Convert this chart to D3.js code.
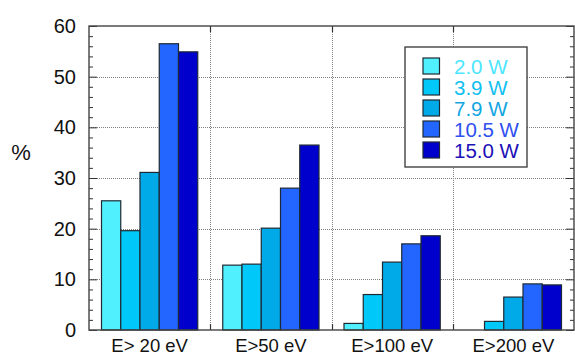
<!DOCTYPE html>
<html>
<head>
<meta charset="utf-8">
<script src="https://cdn.jsdelivr.net/npm/d3@7"></script>
<style>
  html, body { margin: 0; padding: 0; background: #fff; }
  svg { display: block; font-family: "Liberation Sans", Arial, sans-serif; }
</style>
</head>
<body>
<svg id="chart" width="575" height="355"></svg>
<script>
const categories = ["E> 20 eV", "E>50 eV", "E>100 eV", "E>200 eV"];
const seriesNames = ["2.0 W", "3.9 W", "7.9 W", "10.5 W", "15.0 W"];
const w2_0 = [25.5, 12.8, 1.3, 0];
const w3_9 = [19.6, 13.0, 7.0, 1.7];
const w7_9 = [31.1, 20.1, 13.4, 6.5];
const w10_5 = [56.5, 28.0, 17.0, 9.1];
const w15_0 = [54.9, 36.5, 18.6, 8.9];
const yTicks = [0, 10, 20, 30, 40, 50, 60];
const colors = ["#50F0FF", "#00C8F8", "#00AAE8", "#2266FF", "#0000CC"];
const textColors = ["#4CE6FF", "#10C0F0", "#10A6E2", "#3050F0", "#2010B8"];

const values = [w2_0, w3_9, w7_9, w10_5, w15_0];
const data = [];
categories.forEach((c, i) => {
  seriesNames.forEach((s, j) => {
    data.push({ cat: c, series: s, value: values[j][i], idx: j });
  });
});

const width = 575, height = 355;
const margin = { top: 26, right: 1, bottom: 25, left: 89 };

const svg = d3.select("#chart");

const x = d3.scaleBand()
  .domain(categories)
  .range([margin.left, width - margin.right])
  .padding(0);

const inner = d3.scaleBand()
  .domain(seriesNames)
  .range([12.5, x.bandwidth() - 12.5])
  .padding(0);

const y = d3.scaleLinear()
  .domain([0, 60])
  .range([height - margin.bottom, margin.top]);

const x0 = margin.left, x1 = width - margin.right;
const y0 = y(0), y1 = y(60);

// grid
const grid = svg.append("g")
  .attr("stroke", "#808080")
  .attr("stroke-width", 1)
  .attr("stroke-dasharray", "1,1");
grid.selectAll("line.h")
  .data(yTicks.filter(d => d > 0 && d < 60))
  .join("line")
  .attr("x1", x0).attr("x2", x1)
  .attr("y1", d => Math.round(y(d)) + 0.5)
  .attr("y2", d => Math.round(y(d)) + 0.5);
grid.selectAll("line.v")
  .data(categories.slice(1))
  .join("line")
  .attr("x1", d => Math.round(x(d)) + 0.5)
  .attr("x2", d => Math.round(x(d)) + 0.5)
  .attr("y1", y1).attr("y2", y0);

// bars
svg.append("g")
  .attr("stroke", "#1e2a33")
  .attr("stroke-width", 1.2)
  .selectAll("rect")
  .data(data.filter(d => d.value > 0))
  .join("rect")
  .attr("x", d => x(d.cat) + inner(d.series))
  .attr("y", d => y(d.value))
  .attr("width", inner.bandwidth())
  .attr("height", d => y(0) - y(d.value))
  .attr("fill", d => colors[d.idx]);

// axes: left with labels + inward ticks
svg.append("g")
  .attr("transform", `translate(${x0},0)`)
  .call(d3.axisLeft(y).tickValues(yTicks).tickSize(-8).tickPadding(13))
  .call(g => g.select(".domain").remove())
  .call(g => g.selectAll("line").attr("stroke", "#333"))
  .call(g => g.selectAll("text")
    .attr("font-size", 20)
    .attr("fill", "#111")
    .attr("font-family", "Liberation Sans, Arial, sans-serif"));

// minor ticks left
svg.append("g")
  .attr("transform", `translate(${x0},0)`)
  .call(d3.axisLeft(y).tickValues(d3.range(2, 60, 2).filter(d => d % 10)).tickSize(-4).tickFormat(""))
  .call(g => g.select(".domain").remove())
  .call(g => g.selectAll("line").attr("stroke", "#333"));

// right axis
svg.append("g")
  .attr("transform", `translate(${x1},0)`)
  .call(d3.axisRight(y).tickValues(yTicks).tickSize(-8).tickFormat(""))
  .call(g => g.select(".domain").remove())
  .call(g => g.selectAll("line").attr("stroke", "#333"));
svg.append("g")
  .attr("transform", `translate(${x1},0)`)
  .call(d3.axisRight(y).tickValues(d3.range(2, 60, 2).filter(d => d % 10)).tickSize(-4).tickFormat(""))
  .call(g => g.select(".domain").remove())
  .call(g => g.selectAll("line").attr("stroke", "#333"));

// bottom axis labels
svg.append("g")
  .attr("transform", `translate(0,${y0})`)
  .call(d3.axisBottom(x).tickSize(0).tickPadding(9))
  .call(g => g.select(".domain").remove())
  .call(g => g.selectAll("text")
    .attr("font-size", 18.5)
    .attr("fill", "#111")
    .attr("font-family", "Liberation Sans, Arial, sans-serif"));

// inward ticks at category boundaries (top & bottom)
const bTicks = svg.append("g").attr("stroke", "#333").attr("stroke-width", 1.2);
categories.slice(1).forEach(c => {
  const xx = Math.round(x(c)) + 0.5;
  bTicks.append("line").attr("x1", xx).attr("x2", xx).attr("y1", y0).attr("y2", y0 - 6);
  bTicks.append("line").attr("x1", xx).attr("x2", xx).attr("y1", y1).attr("y2", y1 + 6);
});

// frame
svg.append("rect")
  .attr("x", x0).attr("y", y1)
  .attr("width", x1 - x0).attr("height", y0 - y1)
  .attr("fill", "none")
  .attr("stroke", "#444")
  .attr("stroke-width", 1.4);

// y label
svg.append("text")
  .attr("x", 21).attr("y", 160)
  .attr("text-anchor", "middle")
  .attr("font-size", 22)
  .attr("fill", "#111")
  .text("%");

// legend
const legend = svg.append("g").attr("transform", "translate(405,47)");
legend.append("rect")
  .attr("width", 122).attr("height", 120)
  .attr("fill", "#fff")
  .attr("stroke", "#444")
  .attr("stroke-width", 1.4);
const items = legend.selectAll("g.item")
  .data(seriesNames)
  .join("g")
  .attr("transform", (d, i) => `translate(18,${11 + i * 21})`);
items.append("rect")
  .attr("width", 16.5).attr("height", 16)
  .attr("fill", (d, i) => colors[i])
  .attr("stroke", "#1e2a33")
  .attr("stroke-width", 1.2);
items.append("text")
  .attr("x", 31).attr("y", 15.5)
  .attr("font-size", 20.5)
  .attr("fill", (d, i) => textColors[i])
  .text(d => d);
</script>
</body>
</html>
